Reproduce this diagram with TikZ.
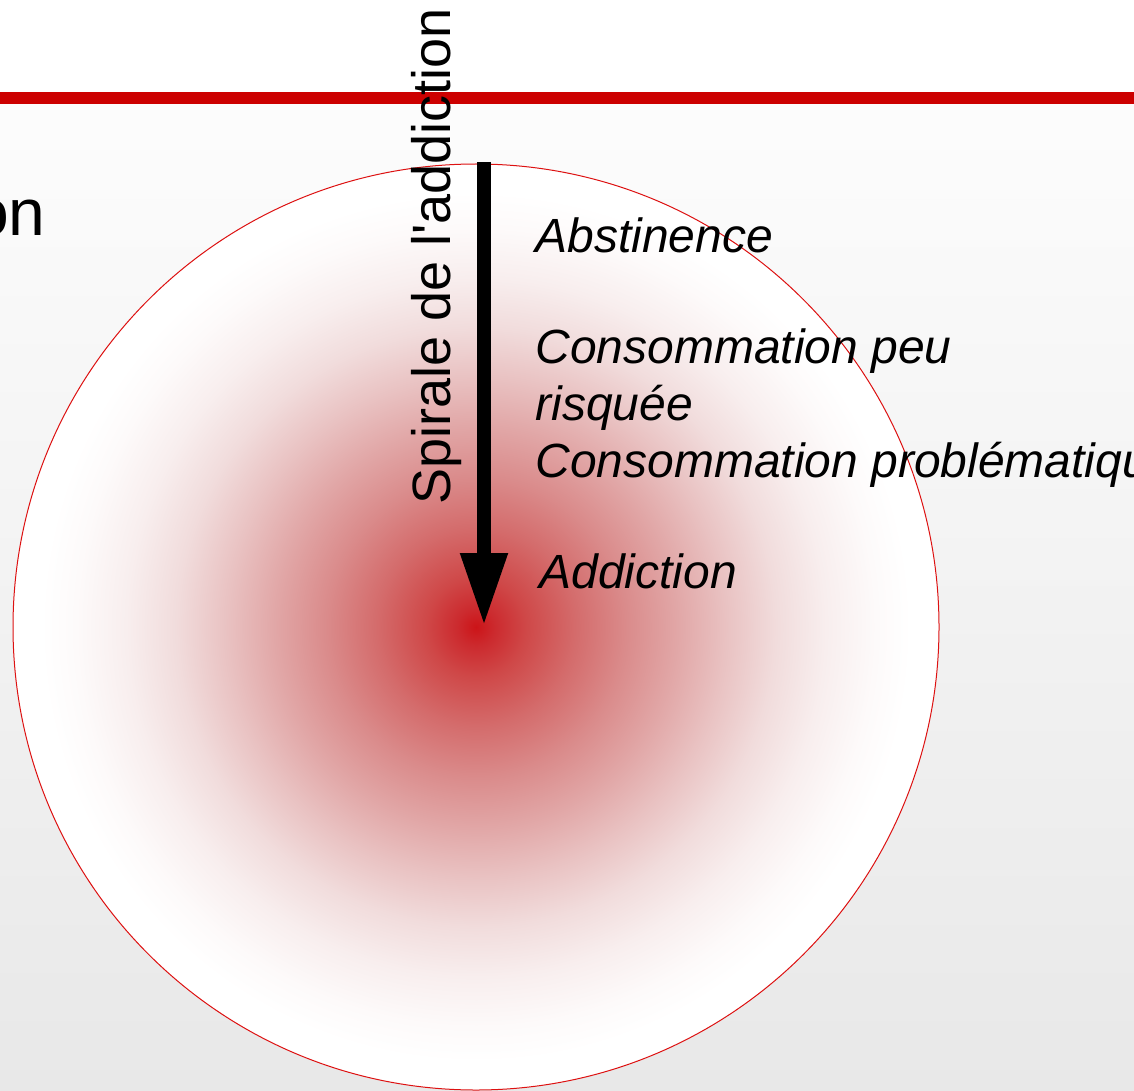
\documentclass[tikz,border=0pt]{standalone}
\usepackage{fontspec}
\setmainfont{Liberation Sans}
\usetikzlibrary{arrows.meta}
\definecolor{rougeligne}{HTML}{CC0000}
\definecolor{rougecercle}{HTML}{DD1111}
\pgfdeclareradialshading{spirale}{\pgfpointorigin}{%
  color(0bp)=(rgb,255:red,204;green,20;blue,24);
  color(1bp)=(rgb,255:red,204;green,42;blue,46);
  color(2.7bp)=(rgb,255:red,207;green,72;blue,72);
  color(5.4bp)=(rgb,255:red,212;green,108;blue,108);
  color(8.1bp)=(rgb,255:red,218;green,139;blue,139);
  color(10.8bp)=(rgb,255:red,225;green,166;blue,166);
  color(13.5bp)=(rgb,255:red,233;green,194;blue,194);
  color(16.2bp)=(rgb,255:red,241;green,220;blue,220);
  color(18.9bp)=(rgb,255:red,248;green,238;blue,238);
  color(21.6bp)=(rgb,255:red,253;green,250;blue,250);
  color(23.5bp)=(white); color(50bp)=(white)}
\tikzset{
  etiquette/.style={font=\itshape\fontsize{24}{28}\selectfont, anchor=base west, inner sep=0pt},
  fleche/.style={line width=7pt, -{Triangle[width=22pt,length=36.5pt]}}
}
\begin{document}
\begin{tikzpicture}[x=0.5pt,y=-0.5pt]
	% le fond
	\fill[white] (0,0) rectangle (1134,1091);
	\shade[top color=black!1, bottom color=black!9] (0,104) rectangle (1134,1091);
	\fill[rougeligne] (0,92) rectangle (1134,104);
	\useasboundingbox (0,0) rectangle (1134,1091);
	\node[anchor=base east, inner sep=0pt, font=\fontsize{33}{38}\selectfont] (titre) at (46,235) {on};
	% le cercle
	\shade[shading=spirale] (476,627) circle (231.5pt);
	\draw[rougecercle, line width=0.5pt] (476,627) circle (231.5pt);
	% la fleche
	\coordinate (haut) at (484,162);
	\coordinate (centre) at (484,626);
	\draw[fleche] (haut) -- (centre);
	\node[rotate=90, anchor=base west, inner sep=0pt, font=\fontsize{27}{32}\selectfont] (spirale) at (450,505) {Spirale de l\textquotesingle addiction};
	% les etapes
	\node[etiquette] (abst) at (535,252) {Abstinence};
	\node[etiquette] (conso) at (535,363) {Consommation peu};
	\node[etiquette] (risq) at (535,420) {risquée};
	\node[etiquette] (probl) at (535,477) {Consommation problématique};
	\node[etiquette] (addic) at (539,588) {Addiction};
\end{tikzpicture}
\end{document}
